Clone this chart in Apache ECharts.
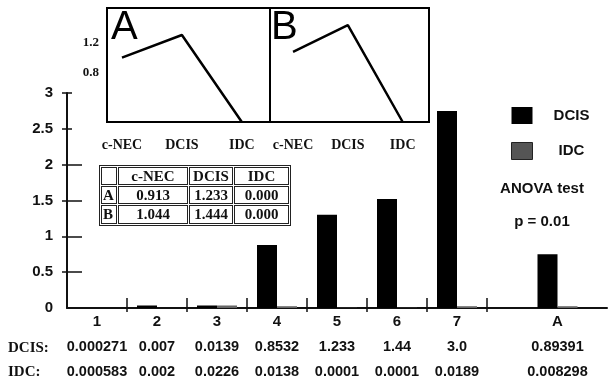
<!DOCTYPE html>
<html>
<head>
<meta charset="utf-8">
<script src="https://cdn.jsdelivr.net/npm/echarts@6/dist/echarts.min.js"></script>
<style>
    body { margin: 0; background: #fff; }
    #wrap { position: relative; width: 610px; height: 384px; }
    #chart { width: 610px; height: 384px; }
    #tbl {
        position: absolute; left: 99px; top: 165px;
        width: 192px; height: 61px;
        border: 1px solid #222; border-spacing: 1px;
        table-layout: fixed;
        font: bold 15px 'Liberation Serif', 'Times New Roman', serif;
        color: #111;
    }
    #tbl td {
        border: 1px solid #222; padding: 0; line-height: 15px;
        text-align: center; box-sizing: border-box;
    }
    #tbl td.rh { text-align: left; padding-left: 1px; }
</style>
</head>
<body>
<div id="wrap">
    <div id="chart"></div>
    <table id="tbl"></table>
</div>
<script>
// main bars
const groups = ['1', '2', '3', '4', '5', '6', '7', 'A']
const dcisBar = [0, 0.035, 0.035, 0.88, 1.30, 1.52, 2.75, 0.75]
const idcBar = [0, 0, 0.035, 0.025, 0.003, 0.003, 0.025, 0.025]

// numbers printed under the axis
const dcisText = ['0.000271', '0.007', '0.0139', '0.8532', '1.233', '1.44', '3.0', '0.89391']
const idcText = ['0.000583', '0.002', '0.0226', '0.0138', '0.0001', '0.0001', '0.0189', '0.008298']

// inset line panels + table
const stages = ['c-NEC', 'DCIS', 'IDC']
const insetA = [0.913, 1.233, 0.000]
const insetB = [1.044, 1.444, 0.000]
const insetTicks = [0.8, 1.2]
const tableRows = ['A', 'B']
const tableA = ['0.913', '1.233', '0.000']
const tableB = ['1.044', '1.444', '0.000']

const SANS = "'Liberation Sans', Arial, sans-serif"
const SERIF = "'Liberation Serif', 'Times New Roman', serif"

// group A sits after a wider gap than groups 1..7
const slot = i => (i < 7 ? i + 0.5 : 8.175)
const slotIndex = v => groups.findIndex((_, i) => Math.abs(slot(i) - v) < 1e-6)

// table as real html text
const tbl = document.getElementById('tbl')
const colW = [16, 70, 44, 55]
let html = '<colgroup>' + colW.map(w => `<col style="width:${w}px">`).join('') + '</colgroup>'
html += '<tr style="height:18px"><td></td>' + stages.map(s => `<td>${s}</td>`).join('') + '</tr>'
;[tableA, tableB].forEach((row, r) => {
    html += `<tr style="height:${r ? 19 : 18}px"><td class="rh">${tableRows[r]}</td>` +
        row.map(v => `<td>${v}</td>`).join('') + '</tr>'
})
tbl.innerHTML = html

const chart = echarts.init(document.getElementById('chart'))

const axisDark = { lineStyle: { color: '#111', width: 2 } }

const option = {
    animation: false,
    backgroundColor: '#fff',
    grid: [
        { left: 67, right: 3, top: 93, bottom: 76 },
        { left: 107, top: 8, width: 163, height: 114, show: true, borderColor: '#000', borderWidth: 2, backgroundColor: 'transparent' },
        { left: 270, top: 8, width: 159, height: 114, show: true, borderColor: '#000', borderWidth: 2, backgroundColor: 'transparent' },
    ],
    legend: {
        orient: 'vertical',
        left: 506,
        top: 102,
        itemWidth: 21,
        itemHeight: 17,
        itemGap: 18,
        icon: 'rect',
        data: [
            { name: 'DCIS', itemStyle: { color: '#000' } },
            { name: 'IDC', itemStyle: { color: '#555', borderColor: '#222', borderWidth: 1 } },
        ],
        formatter: '{n|{name}}',
        textStyle: {
            rich: {
                n: { width: 68, align: 'center', fontSize: 15, fontWeight: 'bold', fontFamily: SANS, color: '#111' },
            },
        },
    },
    xAxis: [
        {
            gridIndex: 0, type: 'value', min: 0, max: 9,
            position: 'bottom',
            axisLine: axisDark,
            splitLine: { show: false },
            axisTick: { show: true, length: 4, customValues: [1, 2, 3, 4, 5, 6, 7], lineStyle: { color: '#111', width: 1.5 } },
            axisLabel: {
                customValues: groups.map((_, i) => slot(i)),
                margin: 2,
                formatter: v => {
                    const i = slotIndex(v)
                    return `{c|${groups[i]}}\n{d|${dcisText[i]}}\n{i|${idcText[i]}}`
                },
                rich: {
                    c: { fontSize: 15, fontWeight: 'bold', fontFamily: SANS, color: '#111', lineHeight: 24 },
                    d: { fontSize: 14.5, fontWeight: 'bold', fontFamily: SANS, color: '#111', lineHeight: 26 },
                    i: { fontSize: 14.5, fontWeight: 'bold', fontFamily: SANS, color: '#111', lineHeight: 24 },
                },
            },
        },
        {
            gridIndex: 0, type: 'value', min: 0, max: 9,
            position: 'bottom',
            axisLine: { show: false },
            splitLine: { show: false },
            axisLabel: { show: false },
            axisTick: { show: true, inside: true, length: 10, customValues: [1, 2, 3, 4, 5, 6, 7], lineStyle: { color: '#111', width: 1.5 } },
        },
        {
            gridIndex: 1, type: 'value', min: -0.25, max: 2.47, position: 'bottom',
            axisLine: { show: false }, axisTick: { show: false }, splitLine: { show: false },
            axisLabel: {
                customValues: [0, 1, 2],
                formatter: v => stages[Math.round(v)],
                margin: 16,
                fontSize: 14, fontWeight: 'bold', fontFamily: SERIF, color: '#111',
            },
        },
        {
            gridIndex: 2, type: 'value', min: -0.42, max: 2.48, position: 'bottom',
            axisLine: { show: false }, axisTick: { show: false }, splitLine: { show: false },
            axisLabel: {
                customValues: [0, 1, 2],
                formatter: v => stages[Math.round(v)],
                margin: 16,
                fontSize: 14, fontWeight: 'bold', fontFamily: SERIF, color: '#111',
            },
        },
    ],
    yAxis: [
        {
            gridIndex: 0, type: 'value', min: 0, max: 3, interval: 0.5,
            position: 'left',
            axisLine: { show: true, ...axisDark },
            splitLine: { show: false },
            axisTick: { show: true, length: 5, customValues: [0.5, 1, 1.5, 2, 2.5, 3], lineStyle: { color: '#111', width: 1.5 } },
            axisLabel: { margin: 14, fontSize: 15, fontWeight: 'bold', fontFamily: SANS, color: '#111' },
        },
        {
            gridIndex: 0, type: 'value', min: 0, max: 3, position: 'left',
            axisLine: { show: false }, splitLine: { show: false }, axisLabel: { show: false },
            axisTick: { show: true, inside: true, length: 15, customValues: [0.5, 1, 1.5, 2], lineStyle: { color: '#111', width: 1.5 } },
        },
        {
            gridIndex: 0, type: 'value', min: 0, max: 3, position: 'left',
            axisLine: { show: false }, splitLine: { show: false }, axisLabel: { show: false },
            axisTick: { show: true, inside: true, length: 5, customValues: [2.5, 3], lineStyle: { color: '#111', width: 1.5 } },
        },
        {
            gridIndex: 1, type: 'value', min: 0, max: 1.615, position: 'left',
            axisLine: { show: false }, axisTick: { show: false }, splitLine: { show: false }, axisLabel: { show: false },
        },
        {
            // tick labels of the inset sit on their own scale in the original
            gridIndex: 1, type: 'value', min: 0.147, max: 1.667, position: 'left',
            axisLine: { show: false }, axisTick: { show: false }, splitLine: { show: false },
            axisLabel: {
                customValues: insetTicks,
                margin: 8,
                fontSize: 13, fontWeight: 'bold', fontFamily: SERIF, color: '#111',
            },
        },
        {
            gridIndex: 2, type: 'value', min: 0, max: 1.70, position: 'left',
            axisLine: { show: false }, axisTick: { show: false }, splitLine: { show: false }, axisLabel: { show: false },
        },
    ],
    series: [
        {
            name: 'DCIS', type: 'bar', xAxisIndex: 0, yAxisIndex: 0,
            barWidth: 20, barGap: '0%',
            itemStyle: { color: '#000' },
            data: groups.map((_, i) => [slot(i), dcisBar[i]]),
        },
        {
            name: 'IDC', type: 'bar', xAxisIndex: 0, yAxisIndex: 0,
            barWidth: 20, barGap: '0%',
            itemStyle: { color: '#666' },
            data: groups.map((_, i) => [slot(i), idcBar[i]]),
        },
        {
            type: 'line', xAxisIndex: 2, yAxisIndex: 3,
            showSymbol: false, lineStyle: { color: '#000', width: 2.5 },
            data: insetA.map((v, i) => [i, v]),
        },
        {
            type: 'line', xAxisIndex: 3, yAxisIndex: 5,
            showSymbol: false, lineStyle: { color: '#000', width: 2.5 },
            data: insetB.map((v, i) => [i, v]),
        },
    ],
    graphic: [
        { type: 'text', x: 111, y: 28, style: { text: 'A', font: `40px ${SANS}`, fill: '#000', verticalAlign: 'middle' } },
        { type: 'text', x: 271, y: 28, style: { text: 'B', font: `40px ${SANS}`, fill: '#000', verticalAlign: 'middle' } },
        { type: 'text', x: 542, y: 189, style: { text: 'ANOVA test', font: `bold 15px ${SANS}`, fill: '#111', align: 'center', verticalAlign: 'middle' } },
        { type: 'text', x: 542, y: 222, style: { text: 'p = 0.01', font: `bold 15px ${SANS}`, fill: '#111', align: 'center', verticalAlign: 'middle' } },
        { type: 'text', x: 8, y: 348, style: { text: 'DCIS:', font: `bold 15px ${SERIF}`, fill: '#111', verticalAlign: 'middle' } },
        { type: 'text', x: 8, y: 372, style: { text: 'IDC:', font: `bold 15px ${SERIF}`, fill: '#111', verticalAlign: 'middle' } },
    ],
}

chart.setOption(option)
</script>
</body>
</html>
